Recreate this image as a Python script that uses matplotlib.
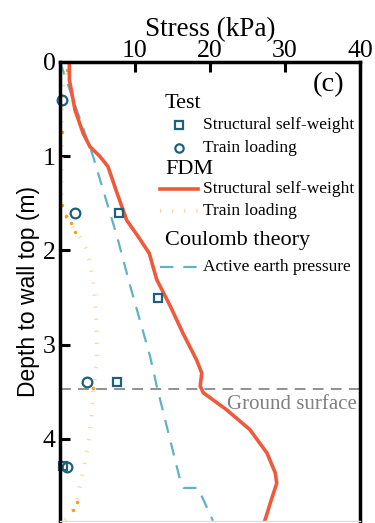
import numpy as np
import matplotlib
matplotlib.use('Agg')
import matplotlib.pyplot as plt

plt.rcParams['font.family'] = ['Liberation Serif', 'DejaVu Serif']
plt.rcParams['mathtext.fontset'] = 'stix'

# test points (stress kPa, depth m)
test_sw_x = [7.9, 13.0, 7.6, 0.45]
test_sw_d = [1.60, 2.50, 3.40, 4.29]
test_tl_x = [0.27, 1.95, 3.6, 0.97]
test_tl_d = [0.40, 1.60, 3.40, 4.30]

# FDM, structural self-weight
fdm_sw_x = [1.25, 1.25, 2.0, 3.1, 4.0, 5.3, 6.4, 7.6, 8.9, 10.4, 11.9, 12.9, 14.7,
            16.4, 18.2, 18.9, 18.7, 19.1, 22.2, 25.3, 27.6, 28.7, 28.9, 28.2, 27.3]
fdm_sw_d = [0.0, 0.19, 0.51, 0.76, 0.90, 1.00, 1.11, 1.39, 1.68, 1.85, 2.03, 2.31, 2.59,
            2.88, 3.16, 3.30, 3.44, 3.51, 3.69, 3.90, 4.15, 4.36, 4.47, 4.64, 4.87]

# FDM, train loading
fdm_tl_x = [0.45, 0.97, 0.3, 0.2, 0.2, 0.2, 0.75, 1.4, 2.0, 2.75, 3.55, 4.0, 4.45, 4.7,
            4.9, 4.9, 4.45, 4.2, 3.8, 3.1, 2.45, 2.2, 1.7, 0.9, 0.5]
fdm_tl_d = [0.0, 0.09, 0.3, 0.74, 1.2, 1.52, 1.63, 1.71, 1.80, 1.87, 1.99, 2.13, 2.35, 2.52,
            2.88, 3.16, 3.46, 3.76, 4.04, 4.33, 4.57, 4.67, 4.75, 4.84, 4.87]
fdm_tl_marks = [1, 3, 5, 6, 7, 8, 16, 21, 22]

# Coulomb active earth pressure
coul_x = [0.0, 4.4, 7.6, 9.3, 12.0, 12.9, 16.0, 16.5, 18.4, 20.4]
coul_d = [0.0, 1.0, 1.85, 2.36, 3.12, 3.44, 4.43, 4.52, 4.52, 4.87]

ground = 3.47

c_red = '#ee5a3c'
c_teal = '#5fb3c3'
c_blue = '#1d5f7d'
c_orange_light = '#fbd9a8'
c_orange = '#f5a01a'
tl_style = (0, (0.3, 2.6))

fig = plt.figure(figsize=(3.75, 5.23), dpi=100)
ax = fig.add_axes([0.16, 0.004, 0.80, 0.8775])

ax.plot(coul_x, coul_d, color=c_teal, lw=1.6, dashes=(6, 4.5))
ax.plot(fdm_tl_x, fdm_tl_d, color=c_orange_light, lw=3, linestyle=tl_style,
        dash_capstyle='butt')
ax.plot([fdm_tl_x[i] for i in fdm_tl_marks], [fdm_tl_d[i] for i in fdm_tl_marks],
        'o', color=c_orange, ms=2.5, mew=0)
ax.plot(fdm_sw_x, fdm_sw_d, color=c_red, lw=2.6)
ax.plot(test_sw_x, test_sw_d, 's', mfc='none', mec=c_blue, mew=1.6, ms=5.5, clip_on=False)
ax.plot(test_tl_x, test_tl_d, 'o', mfc='none', mec=c_blue, mew=1.6, ms=7, clip_on=False)

ax.axhline(ground, color='#888888', lw=1.3, dashes=(6, 4))
ax.text(39.6, ground + 0.16, 'Ground surface', color='#808080', fontsize=15,
        ha='right', va='center')
ax.text(35.8, 0.245, '(c)', fontsize=20.5, ha='center', va='center')

ax.set_xlim(0, 40)
ax.set_ylim(4.87, 0)
ax.xaxis.tick_top()
ax.xaxis.set_label_position('top')
ax.set_xticks([0, 10, 20, 30, 40])
ax.set_xticklabels(['', '10', '20', '30', '40'])
ax.set_yticks([0, 1, 2, 3, 4])
ax.tick_params(direction='in', length=7, width=2.2, labelsize=18.5, pad=3)
ax.tick_params(axis='x', pad=0)
ax.set_xlabel('Stress (kPa)', fontsize=19.5, labelpad=3)
ax.set_ylabel('Depth to wall top (m)', fontsize=16.5, family=['Liberation Sans'], labelpad=2)
for s in ax.spines.values():
    s.set_linewidth(2.5)
ax.spines['bottom'].set_color('#dddddd')
ax.spines['bottom'].set_linewidth(1)

# legend, drawn by hand
tr = ax.transAxes
def ax_pt(px, py):
    x0, y0 = ax.transAxes.inverted().transform(fig.transFigure.transform((px / 375, 1 - py / 523)))
    return x0, y0

hx0, hx1, tx = 160, 198, 203
entries = [
    ('head', 'Test', 103),
    ('sq', 'Structural self-weight', 125),
    ('ci', 'Train loading', 148),
    ('head', 'FDM', 169),
    ('red', 'Structural self-weight', 189),
    ('dot', 'Train loading', 211),
    ('head', 'Coulomb theory', 241),
    ('dash', 'Active earth pressure', 267),
]
for kind, label, py in entries:
    if kind == 'head':
        x, y = ax_pt(165, py)
        ax.text(x, y, label, transform=tr, fontsize=16, ha='left', va='center')
        continue
    xa, y = ax_pt(hx0, py)
    xb, _ = ax_pt(hx1, py)
    xm, _ = ax_pt(179, py)
    if kind == 'sq':
        ax.plot([xm], [y], 's', mfc='none', mec=c_blue, mew=1.6, ms=5.5, transform=tr)
    elif kind == 'ci':
        ax.plot([xm], [y], 'o', mfc='none', mec=c_blue, mew=1.6, ms=6, transform=tr)
    elif kind == 'red':
        ax.plot([xa, xb], [y, y], color=c_red, lw=2.6, transform=tr)
    elif kind == 'dot':
        ax.plot([xa, xb], [y, y], color=c_orange_light, lw=3, linestyle=tl_style,
                dash_capstyle='butt', transform=tr)
    else:
        ax.plot([xa, xb], [y, y], color=c_teal, lw=1.6, dashes=(6, 4.5), transform=tr)
    xt, _ = ax_pt(tx, py)
    ax.text(xt, y, label, transform=tr, fontsize=12.5, ha='left', va='center')

fig.savefig('out.png', dpi=100)
